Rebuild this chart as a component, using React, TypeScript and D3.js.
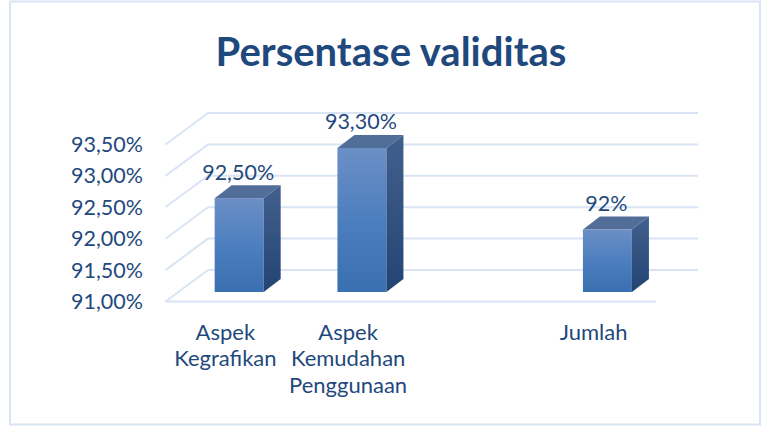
import React from "react";
import * as d3 from "d3";

const categories = ["Aspek Kegrafikan", "Aspek Kemudahan Penggunaan", "", "Jumlah"];
const categoryLines = [["Aspek", "Kegrafikan"], ["Aspek", "Kemudahan", "Penggunaan"], [], ["Jumlah"]];
const values = [92.5, 93.3, null, 92];
const valueLabels = ["92,50%", "93,30%", "", "92%"];
const ticks = [91, 91.5, 92, 92.5, 93, 93.5];
const tickLabels = ["91,00%", "91,50%", "92,00%", "92,50%", "93,00%", "93,50%"];
const title = "Persentase validitas";

const FONT = "Lato, Carlito, 'Open Sans', sans-serif";
const TEXT = "#1f497d";
const GRID = "#d9e4f4";

export default function App() {
  const x = d3.scaleBand<string>().domain(categories).range([164.5, 655.5]);
  const y = d3.scaleLinear().domain([91, 93.5]).range([301.5, 144.5]);
  const backDx = 42.5;
  const backDy = -31.5;
  const barW = 49;
  const barBase = 292;
  const barShift = -11.2;
  const dx = 17;
  const dy = -13;
  const barOff = y(91) - barBase - 0.4;

  return (
    <svg
      width={762}
      height={426}
      style={{ position: "absolute", left: 0, top: 0, background: "#fff" }}
      fontFamily={FONT}
    >
      <defs>
        <linearGradient id="front" x1="0" y1="0" x2="0" y2="1">
          <stop offset="0" stopColor="#6b8fc6" />
          <stop offset="0.55" stopColor="#4a7dbd" />
          <stop offset="1" stopColor="#3a6fb0" />
        </linearGradient>
        <linearGradient id="side" x1="0" y1="0" x2="0" y2="1">
          <stop offset="0" stopColor="#42608e" />
          <stop offset="1" stopColor="#234473" />
        </linearGradient>
      </defs>
      <rect x={10} y={1.5} width={750} height={423} fill="#fff" stroke="#d9e4f4" strokeWidth={2} />
      <text x={391} y={66} textAnchor="middle" fontSize={40} fontWeight={700} fill={TEXT}>
        {title}
      </text>

      {ticks.map((t, i) => (
        <g key={t}>
          <path
            d={`M165.5,${y(t)}L${165.5 + backDx},${y(t) + backDy}H698`}
            fill="none"
            stroke={GRID}
            strokeWidth={2}
          />
          <text x={143} y={y(t) + 7.5} textAnchor="end" fontSize={21.5} fill={TEXT}>
            {tickLabels[i]}
          </text>
        </g>
      ))}
      <line x1={165} x2={656} y1={y(91)} y2={y(91)} stroke={GRID} strokeWidth={2} />

      {categories.map((c, i) => {
        const v = values[i];
        const cx = (x(c) as number) + x.bandwidth() / 2;
        const lines = categoryLines[i];
        return (
          <g key={i}>
            {v != null && (() => {
              const bx = cx + barShift;
              const top = y(v) - barOff;
              return (
                <g>
                  <rect x={bx} y={top} width={barW} height={barBase - top} fill="url(#front)" />
                  <path
                    d={`M${bx},${top}l${dx},${dy}h${barW}l${-dx},${-dy}z`}
                    fill="#516e98"
                  />
                  <path
                    d={`M${bx + barW},${top}l${dx},${dy}V${barBase + dy}l${-dx},${-dy}z`}
                    fill="url(#side)"
                  />
                  <text x={bx + 23.5} y={top + dy - 5.5} textAnchor="middle" fontSize={21.5} fill={TEXT}>
                    {valueLabels[i]}
                  </text>
                </g>
              );
            })()}
            {lines.map((l, j) => (
              <text key={j} x={cx - 0.5} y={340 + j * 26.3} textAnchor="middle" fontSize={22} fill={TEXT}>
                {l}
              </text>
            ))}
          </g>
        );
      })}
    </svg>
  );
}
